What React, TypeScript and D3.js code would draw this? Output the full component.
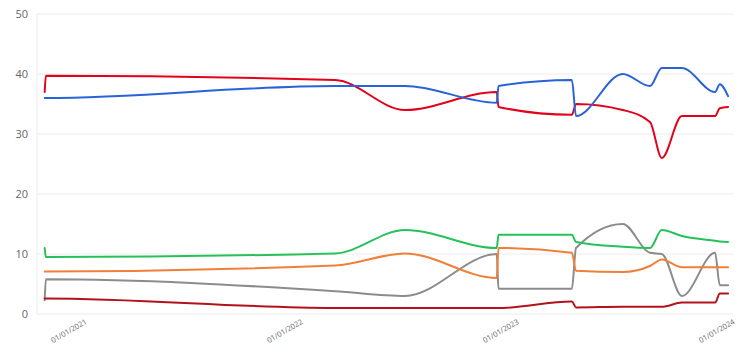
import React from "react";
import * as d3 from "d3";

const dates = [
  "2020-10-23", "2020-10-25", "2022-02-26", "2022-06-24", "2022-11-26", "2022-11-29",
  "2023-04-02", "2023-04-09", "2023-06-27", "2023-08-12", "2023-09-01", "2023-10-05",
  "2023-11-30", "2023-12-08", "2023-12-22",
];

const red = [37, 39.7, 39, 34, 37, 34.5, 33.2, 35, 34, 32, 26, 33, 33, 34.3, 34.5];
const blue = [36, 36, 38, 38, 35.2, 38, 39, 33, 40, 38, 41, 41, 37, 38.3, 36.3];
const green = [11, 9.5, 10.1, 14, 11, 13.2, 13.2, 12, 11.2, 11, 14, 13, 12.2, 12.1, 12];
const orange = [7.1, 7.1, 8.1, 10.1, 6, 11, 10.2, 7.2, 7, 8, 9.1, 7.8, 7.8, 7.8, 7.8];
const gray = [2.3, 5.8, 3.8, 3, 10, 4.2, 4.2, 11, 15, 10.2, 10, 3, 10.2, 4.8, 4.8];
const darkRed = [2.6, 2.6, 1.0, 1.0, 1.0, 1.0, 2.1, 1.1, 1.2, 1.2, 1.2, 1.9, 1.9, 3.4, 3.4];

const yTicks = [0, 10, 20, 30, 40, 50];
const xTicks = ["2021-01-01", "2022-01-01", "2023-01-01", "2024-01-01"];

const series = [
  { name: "gray", values: gray, color: "#8c8c8c" },
  { name: "darkRed", values: darkRed, color: "#b3121c" },
  { name: "orange", values: orange, color: "#f07f3a" },
  { name: "green", values: green, color: "#27c15a" },
  { name: "red", values: red, color: "#e3001b" },
  { name: "blue", values: blue, color: "#2a62d8" },
];

const W = 745;
const H = 358;
const left = 37;
const right = 734;
const top = 14;
const bottom = 314;

export default function App() {
  const parse = d3.utcParse("%Y-%m-%d");
  const x = d3
    .scaleUtc()
    .domain([parse("2020-10-10")!, parse("2024-01-01")!])
    .range([left, right]);
  const y = d3.scaleLinear().domain([0, 50]).range([bottom, top]);
  const fmt = d3.utcFormat("%d/%m/%Y");
  const parsed = dates.map((d) => parse(d)!);

  const line = d3
    .line<number>()
    .x((_, i) => x(parsed[i]))
    .y((v) => y(v))
    .curve(d3.curveMonotoneX);

  return (
    <svg width={W} height={H} style={{ display: "block", position: "absolute", left: 0, top: 0, fontFamily: "'Open Sans', sans-serif" }}>
      <rect width={W} height={H} fill="#fff" />
      {yTicks.map((t) => (
        <g key={t}>
          <line x1={left} x2={733} y1={y(t)} y2={y(t)} stroke="#ececec" strokeWidth={1} />
          <text x={28} y={y(t)} dy="0.35em" textAnchor="end" fontSize={11} fill="#666">
            {t}
          </text>
        </g>
      ))}
      <line x1={left} x2={left} y1={top} y2={bottom} stroke="#ececec" strokeWidth={1} />
      {xTicks.map((t) => {
        const d = parse(t)!;
        const px = x(d);
        return (
          <text
            key={t}
            transform={`translate(${px},${321}) rotate(-30)`}
            textAnchor="end"
            dy="0.35em"
            fontSize={7.5}
            fill="#666"
          >
            {fmt(d)}
          </text>
        );
      })}
      {series.map((s) => (
        <path
          key={s.name}
          d={line(s.values) || ""}
          fill="none"
          stroke={s.color}
          strokeWidth={2}
          strokeLinejoin="round"
          strokeLinecap="round"
        />
      ))}
    </svg>
  );
}
